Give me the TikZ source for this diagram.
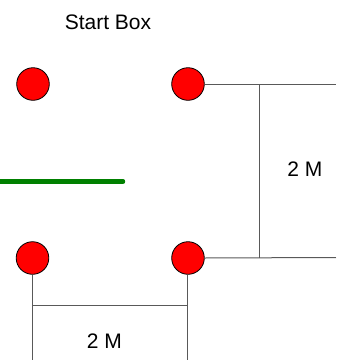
\documentclass[tikz,border=0pt]{standalone}
\usepackage{fontspec}
\setmainfont{Liberation Sans}
\begin{document}
\begin{tikzpicture}[x=1pt,y=-1pt,
  dot/.style={circle,draw=black,line width=0.8pt,fill=red,minimum size=32.6pt,inner sep=0pt},
  dim/.style={draw=black!65,line width=1pt},
  lbl/.style={inner sep=0pt,font=\fontsize{21}{24}\selectfont},
  wall/.style={draw=green!50!black,line width=4.5pt,line cap=round}]
\useasboundingbox (0,0) rectangle (346,360);
\node[lbl] (title) at (108,22) {Start Box};
\node[dot] (tl) at (33,84) {};
\node[dot] (tr) at (188,84) {};
\node[dot] (bl) at (32.5,258) {};
\node[dot] (br) at (188,258) {};
\coordinate (rt) at (336,84);
\coordinate (rb) at (336,257.5);
\coordinate (rv1) at (260,84);
\coordinate (rv2) at (260,257.5);
\coordinate (bl0) at (32.5,360);
\coordinate (br0) at (188,360);
\coordinate (bh1) at (32.5,305.5);
\coordinate (bh2) at (188,305.5);
\coordinate (g1) at (0,181.5);
\coordinate (g2) at (123,181.5);
\draw[dim] (tr) -- (rt);
\draw[dim] (br.east) -- (rb);
\draw[dim] (rv1) -- (rv2);
\draw[dim] (bl) -- (bl0);
\draw[dim] (br) -- (br0);
\draw[dim] (bh1) -- (bh2);
\draw[wall] (g1) -- (g2);
\node[lbl] (m1) at (305,169) {2 M};
\node[lbl] (m2) at (104.5,341.5) {2 M};
\end{tikzpicture}
\end{document}
